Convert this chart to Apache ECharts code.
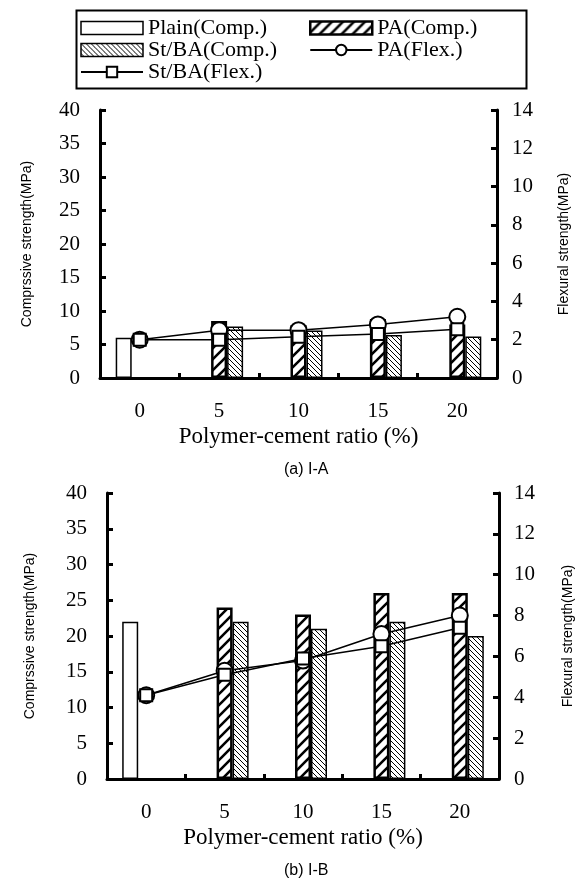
<!DOCTYPE html>
<html>
<head>
<meta charset="utf-8">
<script src="https://cdn.jsdelivr.net/npm/echarts@6/dist/echarts.min.js"></script>
<style>
  html, body { margin: 0; padding: 0; background: #fff; }
  #main { width: 580px; height: 883px; }
</style>
</head>
<body>
<div id="main"></div>
<script>
var ratios = ['0', '5', '10', '15', '20'];

// (a) I-A
var plainCompA = [6, '-', '-', '-', '-'];
var paCompA = ['-', 8.5, 7.9, 8.8, 8.0];
var stbaCompA = ['-', 7.7, 7.1, 6.4, 6.2];
var paFlexA = [2.0, 2.5, 2.5, 2.8, 3.2];
var stbaFlexA = [2.0, 2.0, 2.15, 2.3, 2.55];

// (b) I-B
var plainCompB = [22, '-', '-', '-', '-'];
var paCompB = ['-', 24, 23, 26, 26];
var stbaCompB = ['-', 22, 21, 22, 20];
var paFlexB = [4.1, 5.3, 5.8, 7.1, 8.0];
var stbaFlexB = [4.1, 5.1, 5.9, 6.5, 7.4];

var serif = 'Liberation Serif';
var sans = 'Liberation Sans';

// diagonal hatch tile, dir 1 = '/', dir -1 = '\'
function hatch(size, width, dir) {
  var c = document.createElement('canvas');
  c.width = size; c.height = size;
  var ctx = c.getContext('2d');
  ctx.fillStyle = '#fff';
  ctx.fillRect(0, 0, size, size);
  ctx.strokeStyle = '#000';
  ctx.lineWidth = width;
  ctx.beginPath();
  for (var k = -1; k <= 2; k++) {
    if (dir > 0) {
      ctx.moveTo(k * size + 1, -1);
      ctx.lineTo(k * size - size - 1, size + 1);
    } else {
      ctx.moveTo(-1 - k * size, -1);
      ctx.lineTo(size + 1 - k * size, size + 1);
    }
  }
  ctx.stroke();
  return { image: c, repeat: 'repeat' };
}

var paFill = hatch(11, 2.6, 1);
var stFill = hatch(5, 1, -1);

function xAx(g) {
  return {
    gridIndex: g, type: 'category', data: ratios, boundaryGap: true,
    axisLine: { show: true, lineStyle: { color: '#000', width: 3 } },
    axisTick: { show: true, inside: true, length: 5, lineStyle: { color: '#000', width: 3 } },
    axisLabel: { fontFamily: serif, fontSize: 21, color: '#000', margin: 23 },
    splitLine: { show: false },
    name: 'Polymer-cement ratio (%)', nameLocation: 'middle', nameGap: 47,
    nameTextStyle: { fontFamily: serif, fontSize: 23, color: '#000' }
  };
}

function yAx(g, pos, max, step, name, gap) {
  return {
    gridIndex: g, type: 'value', position: pos, min: 0, max: max, interval: step,
    axisLine: { show: true, lineStyle: { color: '#000', width: 3 } },
    axisTick: { show: true, inside: true, length: 6, lineStyle: { color: '#000', width: 3 } },
    axisLabel: { fontFamily: serif, fontSize: 21, color: '#000', margin: pos === 'left' ? 20 : 15 },
    splitLine: { show: false },
    name: name, nameLocation: 'middle', nameGap: gap,
    nameTextStyle: { fontFamily: sans, fontSize: 14, color: '#000' }
  };
}

function seriesFor(xi, yl, yr, plain, pa, st, paF, stF) {
  return [
    { name: 'Plain(Comp.)', type: 'bar', xAxisIndex: xi, yAxisIndex: yl, data: plain,
      barWidth: 16, barGap: '0%', itemStyle: { color: '#fff', borderColor: '#000', borderWidth: 1.5 } },
    { name: 'PA(Comp.)', type: 'bar', xAxisIndex: xi, yAxisIndex: yl, data: pa,
      barWidth: 16, barGap: '0%', itemStyle: { color: paFill, borderColor: '#000', borderWidth: 2.5 } },
    { name: 'St/BA(Comp.)', type: 'bar', xAxisIndex: xi, yAxisIndex: yl, data: st,
      barWidth: 16, barGap: '0%', itemStyle: { color: stFill, borderColor: '#000', borderWidth: 1.5 } },
    { name: 'PA(Flex.)', type: 'line', xAxisIndex: xi, yAxisIndex: yr, data: paF,
      symbol: 'circle', symbolSize: 16, z: 3,
      lineStyle: { color: '#000', width: 1.5 },
      itemStyle: { color: '#fff', borderColor: '#000', borderWidth: 2 } },
    { name: 'St/BA(Flex.)', type: 'line', xAxisIndex: xi, yAxisIndex: yr, data: stF,
      symbol: 'rect', symbolSize: 12, z: 4,
      lineStyle: { color: '#000', width: 1.5 },
      itemStyle: { color: '#fff', borderColor: '#000', borderWidth: 2 } }
  ];
}

var legendText = { fontFamily: serif, fontSize: 22, lineHeight: 20, color: '#000' };
var boxStyle = { borderColor: '#000', borderWidth: 1.5 };

var chart = echarts.init(document.getElementById('main'), null, { renderer: 'canvas' });

var option = {
  animation: false,
  backgroundColor: '#fff',
  title: [
    { text: '(a) I-A', left: 279, top: 457, textStyle: { fontFamily: sans, fontSize: 16, fontWeight: 'normal', color: '#000' } },
    { text: '(b) I-B', left: 279, top: 858, textStyle: { fontFamily: sans, fontSize: 16, fontWeight: 'normal', color: '#000' } }
  ],
  legend: [
    { orient: 'vertical', left: 80, top: 17, padding: 0, itemGap: 0, itemWidth: 62, itemHeight: 13,
      textStyle: legendText,
      data: [
        { name: 'Plain(Comp.)', icon: 'rect', itemStyle: boxStyle },
        { name: 'St/BA(Comp.)', icon: 'rect', itemStyle: boxStyle },
        { name: 'St/BA(Flex.)' }
      ] },
    { orient: 'vertical', left: 309, top: 17, padding: 0, itemGap: 0, itemWidth: 62, itemHeight: 13,
      textStyle: legendText,
      data: [
        { name: 'PA(Comp.)', icon: 'rect', itemStyle: { borderColor: '#000', borderWidth: 2.5 } },
        { name: 'PA(Flex.)' }
      ] }
  ],
  graphic: [
    { type: 'rect', left: 74, top: 8, shape: { width: 450, height: 78 },
      style: { fill: 'none', stroke: '#000', lineWidth: 2 }, silent: true }
  ],
  grid: [
    { left: 100, right: 83, top: 110, height: 268, outerBoundsMode: 'none' },
    { left: 107, right: 81, top: 493, height: 286, outerBoundsMode: 'none' }
  ],
  xAxis: [xAx(0), xAx(1)],
  yAxis: [
    yAx(0, 'left', 40, 5, 'Comprssive strength(MPa)', 66),
    yAx(0, 'right', 14, 2, 'Flexural strength(MPa)', 60),
    yAx(1, 'left', 40, 5, 'Comprssive strength(MPa)', 70),
    yAx(1, 'right', 14, 2, 'Flexural strength(MPa)', 62)
  ],
  series: seriesFor(0, 0, 1, plainCompA, paCompA, stbaCompA, paFlexA, stbaFlexA)
    .concat(seriesFor(1, 2, 3, plainCompB, paCompB, stbaCompB, paFlexB, stbaFlexB))
};

chart.setOption(option);
</script>
</body>
</html>
